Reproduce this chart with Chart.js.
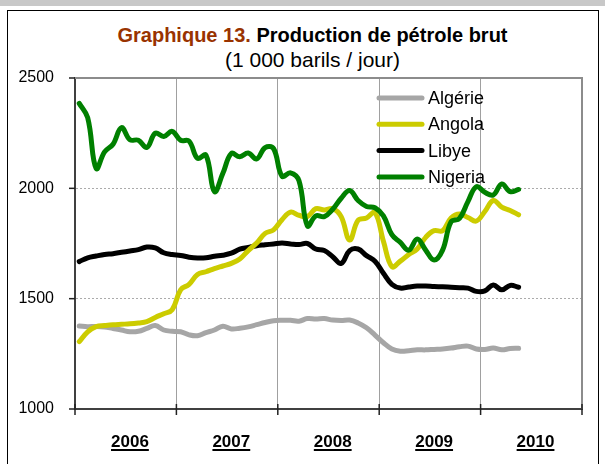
<!DOCTYPE html>
<html lang="fr">
<head>
<meta charset="utf-8">
<script src="https://cdn.jsdelivr.net/npm/chart.js@4/dist/chart.umd.min.js"></script>
<style>
body{margin:0;width:605px;height:464px;overflow:hidden;background:#fff;font-family:"Liberation Sans",Arial,sans-serif}
#band{position:absolute;left:0;top:0;width:605px;height:6px;background:#c8c8c8}
#frame{position:absolute;left:7px;top:10px;width:590px;height:480px;border:1.5px solid #000}
.t{position:absolute;left:20px;width:585px;text-align:center;color:#000;white-space:nowrap}
#t1{top:23px;font-weight:bold;font-size:20px;line-height:24px}
#t2{top:48px;font-size:21px;line-height:24px}
#c{position:absolute;left:0;top:0}
</style>
</head>
<body>
<div id="band"></div>
<div id="frame"></div>
<div class="t" id="t1"><span style="color:#993300">Graphique 13.</span> Production de pétrole brut</div>
<div class="t" id="t2">(1 000 barils / jour)</div>
<canvas id="c" width="605" height="464"></canvas>
<script>
// monthly values, Jan 2006 .. May 2010
const years = ['2006','2007','2008','2009','2010'];
const algerie = [1376,1373,1374,1372,1365,1358,1350,1352,1365,1378,
  1358,1352,1350,1336,1332,1346,1358,1375,1363,1366,
  1372,1382,1392,1400,1402,1402,1398,1410,1408,1410,
  1403,1401,1403,1390,1368,1335,1300,1272,1262,1264,
  1268,1268,1270,1272,1276,1282,1285,1272,1270,1276,
  1268,1274,1275];
const angola = [1305,1350,1373,1378,1382,1384,1386,1390,1396,1415,
  1432,1450,1540,1565,1610,1622,1636,1648,1660,1680,
  1718,1752,1796,1812,1858,1892,1878,1872,1908,1902,
  1908,1872,1766,1855,1866,1890,1760,1645,1670,1700,
  1725,1778,1808,1808,1866,1884,1868,1852,1895,1945,
  1915,1900,1880];
const libye = [1668,1685,1693,1700,1704,1710,1716,1722,1734,1730,
  1708,1700,1696,1688,1684,1685,1692,1697,1706,1724,
  1732,1740,1744,1748,1752,1748,1745,1750,1725,1718,
  1690,1660,1718,1725,1695,1670,1615,1565,1548,1553,
  1557,1557,1555,1554,1552,1550,1548,1533,1535,1562,
  1540,1560,1552];
const nigeria = [2385,2320,2090,2165,2200,2275,2220,2218,2185,2250,
  2235,2258,2218,2214,2136,2150,1985,2068,2158,2143,
  2160,2133,2185,2180,2055,2070,2035,1830,1875,1872,
  1905,1955,1990,1945,1918,1912,1875,1790,1755,1720,
  1770,1720,1675,1720,1848,1864,1940,2008,1982,1970,
  2020,1985,1995];
const yTicks = [1000,1500,2000,2500];

const series = [
  {label:'Algérie', data:algerie, color:'#a6a6a6', order:3},
  {label:'Angola',  data:angola,  color:'#cccc00', order:1},
  {label:'Libye',   data:libye,   color:'#000000', order:2},
  {label:'Nigeria', data:nigeria, color:'#008000', order:0}
];
const FONT = '"Liberation Sans", Arial, sans-serif';

const deco = {
  id:'deco',
  afterDraw(chart){
    const {ctx, chartArea:a, scales:{x,y}} = chart;
    ctx.save();
    // top/right frame of plot
    ctx.strokeStyle='#8c8c8c'; ctx.lineWidth=2;
    ctx.beginPath(); ctx.moveTo(a.left,a.top); ctx.lineTo(a.right,a.top); ctx.lineTo(a.right,a.bottom); ctx.stroke();
    // tick marks
    ctx.strokeStyle='#222'; ctx.lineWidth=1.5;
    y.ticks.forEach(t=>{const py=y.getPixelForValue(t.value); ctx.beginPath(); ctx.moveTo(a.left-6,py); ctx.lineTo(a.left,py); ctx.stroke();});
    x.ticks.forEach(t=>{const px=x.getPixelForValue(t.value); ctx.beginPath(); ctx.moveTo(px,a.bottom-5); ctx.lineTo(px,a.bottom+6); ctx.stroke();});
    // year labels, underlined
    ctx.font='bold 17px '+FONT; ctx.fillStyle='#000'; ctx.textAlign='center'; ctx.textBaseline='alphabetic';
    years.forEach((yr,i)=>{
      const px=x.getPixelForValue(i*12+6.5);
      ctx.fillText(yr,px,447);
      const w=ctx.measureText(yr).width;
      ctx.fillRect(px-w/2,449,w,2);
    });
    // legend inside plot
    ctx.font='18px '+FONT; ctx.textAlign='left'; ctx.textBaseline='middle'; ctx.lineCap='round';
    chart.data.datasets.forEach((d,i)=>{
      const ly=98+i*26.3;
      ctx.strokeStyle=d.borderColor; ctx.lineWidth=5;
      ctx.beginPath(); ctx.moveTo(379,ly); ctx.lineTo(422,ly); ctx.stroke();
      ctx.fillText(d.label,428,ly+1);
    });
    ctx.restore();
  }
};

new Chart(document.getElementById('c'),{
  type:'line',
  data:{datasets:series.map(s=>({
    label:s.label,
    data:s.data.map((v,i)=>({x:i+0.5,y:v})),
    borderColor:s.color, backgroundColor:s.color, borderWidth:5,
    pointRadius:0, tension:0.4, fill:false, order:s.order,
    borderCapStyle:'round', borderJoinStyle:'round'
  }))},
  options:{
    responsive:false, animation:false, devicePixelRatio:1,
    layout:{padding:{top:78,right:23,left:0,bottom:0}},
    plugins:{legend:{display:false},tooltip:{enabled:false},title:{display:false}},
    scales:{
      x:{type:'linear',min:0,max:60,
        ticks:{display:false,stepSize:12},
        grid:{color:'#a0a0a0',lineWidth:1,drawTicks:false},
        border:{color:'#404040',width:2},
        afterFit(s){s.height=55;}},
      y:{type:'linear',min:1000,max:2500,
        afterBuildTicks(s){s.ticks=yTicks.map(v=>({value:v}));},
        ticks:{color:'#000',font:{family:FONT,size:16},padding:21,callback:v=>String(v)},
        grid:{color:'#ababab',lineWidth:1,drawTicks:false},
        border:{color:'#404040',width:2,dash:[2,2]},
        afterFit(s){s.width=75;}}
    }
  },
  plugins:[deco]
});
</script>
</body>
</html>
